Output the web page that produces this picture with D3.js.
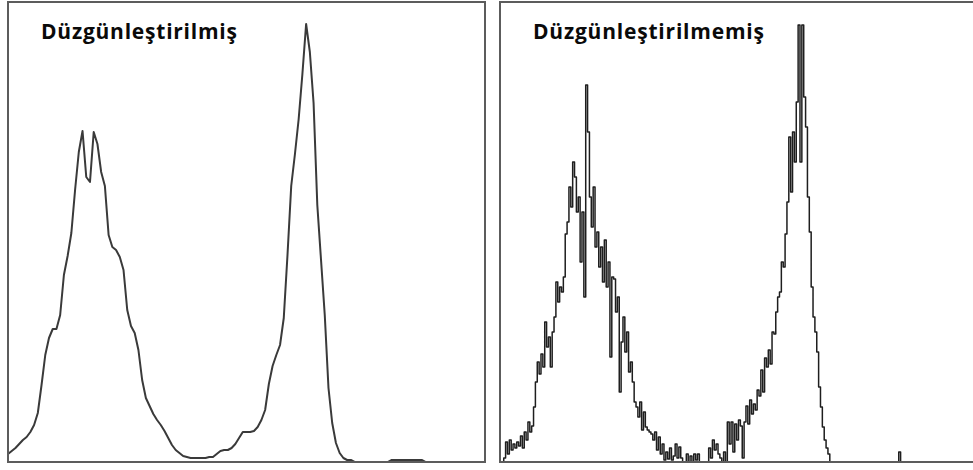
<!DOCTYPE html>
<html>
<head>
<meta charset="utf-8">
<script src="https://cdn.jsdelivr.net/npm/d3@7"></script>
<style>
  body { margin: 0; background: #fff; }
  svg { display: block; }
  .title { font-family: "Open Sans", Lato, sans-serif; font-weight: 700; font-size: 21px; fill: #0a0a0a; }
</style>
</head>
<body>
<svg id="canvas" width="973" height="470"></svg>
<script>
// panel titles and their widths on the picture
let titles = ["Düzgünleştirilmiş", "Düzgünleştirilmemiş"]
let titleWidths = [196, 231]

// smoothed histogram, one value every 2 channels (channel 0, 2, 4 ... 254)
let smoothStep = 2
let smoothedCounts = [
    8, 11, 14, 18, 22, 25, 30, 37, 49, 77,
    107, 124, 133, 133, 147, 187, 206, 229, 272, 310,
    331, 285, 280, 330, 318, 290, 276, 227, 215, 212,
    205, 192, 152, 136, 129, 112, 82, 64, 56, 48,
    42, 37, 31, 24, 17, 12, 9, 6, 5, 4,
    4, 4, 4, 4, 5, 5, 8, 11, 12, 12,
    14, 18, 24, 30, 30, 30, 31, 35, 42, 52,
    78, 96, 107, 117, 144, 207, 276, 308, 343, 388,
    438, 410, 359, 257, 202, 147, 74, 39, 19, 9,
    4, 2, 2, 0, 0, 0, 0, 0, 0, 0,
    0, 0, 0, 2, 2, 2, 2, 2, 2, 2,
    2, 2, 0, 0, 0, 0, 0, 0, 0, 0,
    0, 0, 0, 0, 0, 0, 0, 0
]

// raw histogram, one value per channel (0 ... 255)
let rawCounts = [
    0, 0, 4, 20, 8, 22, 12, 18, 14, 20,
    16, 26, 14, 30, 22, 40, 30, 36, 55, 80,
    100, 88, 108, 95, 140, 115, 125, 95, 130, 145,
    180, 160, 175, 170, 185, 228, 240, 275, 255, 300,
    285, 250, 265, 200, 250, 165, 377, 330, 265, 235,
    275, 215, 230, 195, 215, 180, 222, 175, 200, 105,
    185, 183, 150, 165, 70, 120, 145, 110, 130, 90,
    100, 80, 60, 55, 45, 60, 32, 50, 35, 32,
    30, 28, 22, 30, 12, 25, 8, 18, 2, 10,
    3, 14, 2, 6, 18, 4, 15, 4, 0, 0,
    8, 0, 6, 0, 8, 2, 8, 0, 0, 0,
    0, 0, 14, 4, 22, 12, 18, 8, 4, 0,
    10, 0, 40, 18, 40, 10, 38, 22, 42, 36,
    4, 40, 56, 38, 62, 48, 58, 52, 72, 66,
    92, 70, 104, 95, 112, 98, 130, 128, 150, 165,
    170, 200, 195, 228, 260, 325, 270, 330, 300, 360,
    437, 300, 437, 365, 335, 265, 230, 175, 145, 130,
    110, 75, 55, 35, 22, 14, 8, 0, 0, 0,
    0, 0, 0, 0, 0, 0, 0, 0, 0, 0,
    0, 0, 0, 0, 0, 0, 0, 0, 0, 0,
    0, 0, 0, 0, 0, 0, 0, 0, 0, 0,
    0, 0, 0, 0, 10, 0, 0, 0, 0, 0,
    0, 0, 0, 0, 0, 0, 0, 0, 0, 0,
    0, 0, 0, 0, 0, 0, 0, 0, 0, 0,
    0, 0, 0, 0, 0, 0, 0, 0, 0, 0,
    0, 0, 0, 0, 0, 0
]

let panelWidth = 477
let panelHeight = 460

let canvas = d3.select("#canvas")

let xScale = d3.scaleLinear()
                .domain([0, 256])
                .range([0, panelWidth])

let yScale = d3.scaleLinear()
                .domain([0, 460])
                .range([panelHeight, 0])

let drawPanel = (left, title, titleWidth, points, curve, stroke, width) => {

    let panel = canvas.append("g")
            .attr("transform", "translate(" + left + ", 2)")

    let line = d3.line()
            .x((d) => xScale(d[0]))
            .y((d) => yScale(d[1]))
            .curve(curve)

    panel.append("path")
            .datum(points)
            .attr("d", line)
            .attr("fill", "none")
            .attr("stroke", stroke)
            .attr("stroke-width", width)
            .attr("stroke-linejoin", "round")

    panel.append("rect")
            .attr("x", 0)
            .attr("y", 0)
            .attr("width", panelWidth)
            .attr("height", panelHeight)
            .attr("fill", "none")
            .attr("stroke", "#5c5c5c")
            .attr("stroke-width", 2)

    panel.append("text")
            .attr("class", "title")
            .attr("x", 33)
            .attr("y", 37)
            .attr("textLength", titleWidth)
            .attr("lengthAdjust", "spacing")
            .text(title)
}

let smoothPoints = smoothedCounts.map((v, i) => [i * smoothStep, v])
let rawPoints = rawCounts.map((v, i) => [i, v])
rawPoints.push([256, 0])

drawPanel(8, titles[0], titleWidths[0], smoothPoints, d3.curveLinear, "#3a3a3a", 2)
drawPanel(500, titles[1], titleWidths[1], rawPoints, d3.curveStepAfter, "#1e1e1e", 1.5)
</script>
</body>
</html>
